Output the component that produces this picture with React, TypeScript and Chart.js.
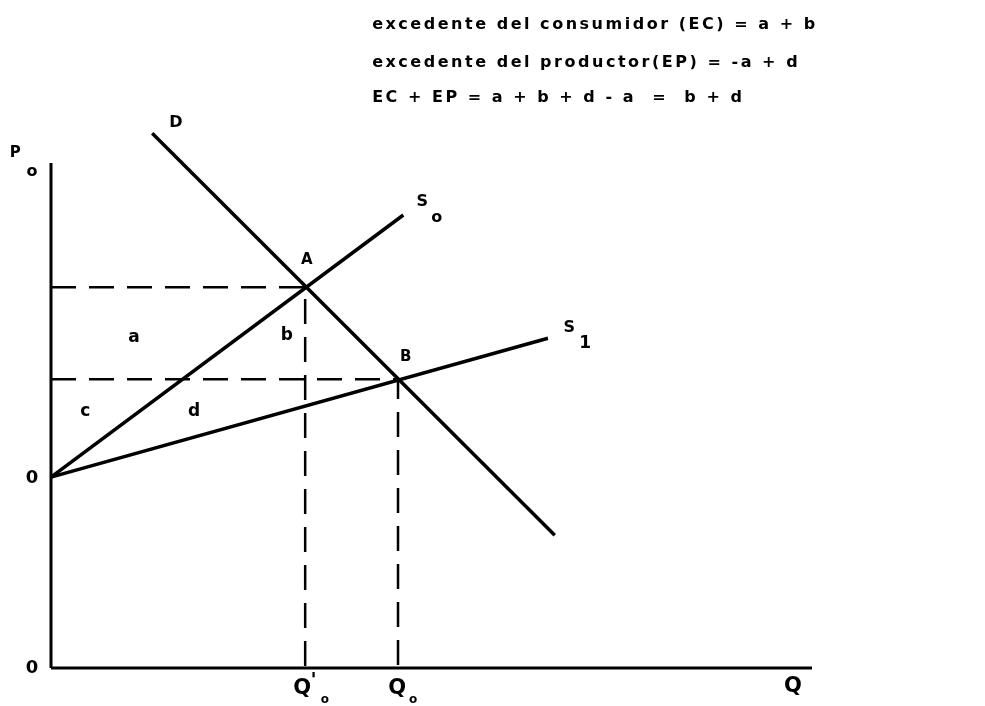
import React, { useEffect, useRef } from 'react';
import { Chart, registerables } from 'chart.js';

Chart.register(...registerables);

// Axes extent (data units: quantity Q 0..100, price P 0..100)
const axisQMax = 100;
const axisPMax = 100;

// Demand curve D
const demandQ = [13.3, 66.2];
const demandP = [105.9, 26.3];

// Supply S0
const supply0Q = [0, 46.3];
const supply0P = [37.8, 89.7];

// Supply S1
const supply1Q = [0, 65.3];
const supply1P = [37.8, 65.3];

// Equilibria A and B
const pointA = { q: 33.4, p: 75.4 };
const pointB = { q: 45.6, p: 57.2 };

// Text labels (data coordinates)
const labelText = ['D', 'A', 'B', 'a', 'b', 'c', 'd', '0', '0', 'P', 'o', 'S', 'o', 'S', '1', 'Q', "'", 'o', 'Q', 'o', 'Q'];
const labelQ = [16.4, 33.6, 46.6, 10.9, 31.0, 4.5, 18.8, -2.5, -2.5, -4.7, -2.5, 48.8, 50.7, 68.1, 70.2, 33.0, 34.5, 36.0, 45.5, 47.6, 97.5];
const labelP = [107.9, 80.8, 61.6, 65.5, 65.9, 50.7, 50.7, 37.6, 0, 102, 98.2, 92.3, 89.1, 67.3, 64.2, -4.0, -2.6, -6.3, -4.0, -6.3, -3.6];
const labelSize = [16, 15, 15, 17, 17, 17, 17, 18, 18, 15, 16, 16, 16, 16, 17, 21, 20, 12, 21, 12, 21];

// Formula lines at top
const formulas = [
  'excedente del consumidor (EC) = a + b',
  'excedente del productor(EP) = -a + d',
  'EC + EP = a + b + d - a  =  b + d',
];
const formulaQ = 42.2;
const formulaP = [127.3, 119.8, 112.9];
const formulaWidthPx = 443;

const FONT = '"DejaVu Sans", "Liberation Sans", Arial, sans-serif';

const pts = (qs: number[], ps: number[]) => qs.map((q, i) => ({ x: q, y: ps[i] }));

export default function App() {
  const ref = useRef<HTMLCanvasElement>(null);

  useEffect(() => {
    const labelPlugin = {
      id: 'labelPlugin',
      afterDatasetsDraw(chart: any) {
        const { ctx, scales } = chart;
        const xs = scales.x;
        const ys = scales.y;
        ctx.save();
        ctx.fillStyle = '#000';
        ctx.textAlign = 'center';
        ctx.textBaseline = 'middle';
        for (let i = 0; i < labelText.length; i++) {
          ctx.font = `bold ${labelSize[i]}px ${FONT}`;
          ctx.fillText(labelText[i], xs.getPixelForValue(labelQ[i]), ys.getPixelForValue(labelP[i]));
        }
        // formulas, letter-spaced
        ctx.font = `bold 16px ${FONT}`;
        ctx.textAlign = 'left';
        const first = formulas[0];
        const natural = ctx.measureText(first).width;
        const spacing = (formulaWidthPx - natural) / (first.length - 1);
        formulas.forEach((line, li) => {
          let px = xs.getPixelForValue(formulaQ);
          const py = ys.getPixelForValue(formulaP[li]);
          for (const ch of line) {
            ctx.fillText(ch, px, py);
            px += ctx.measureText(ch).width + spacing;
          }
        });
        ctx.restore();
      },
    };

    const line = (data: any[], width: number, dash: number[] = []) => ({
      data,
      showLine: true,
      borderColor: '#000',
      backgroundColor: '#000',
      borderWidth: width,
      borderDash: dash,
      pointRadius: 0,
      tension: 0,
      clip: false as any,
      fill: false,
    });

    const chart = new Chart(ref.current as HTMLCanvasElement, {
      type: 'scatter',
      data: {
        datasets: [
          // axes
          line([{ x: 0, y: 0 }, { x: 0, y: axisPMax }], 3),
          line([{ x: 0, y: 0 }, { x: axisQMax, y: 0 }], 3),
          // dashed guides
          line([{ x: 0, y: pointA.p }, { x: pointA.q, y: pointA.p }, { x: pointA.q, y: 0 }], 2.5, [25, 13]),
          line([{ x: 0, y: pointB.p }, { x: pointB.q, y: pointB.p }, { x: pointB.q, y: 0 }], 2.5, [25, 13]),
          // curves
          line(pts(demandQ, demandP), 3.5),
          line(pts(supply0Q, supply0P), 3.5),
          line(pts(supply1Q, supply1P), 3.5),
        ] as any,
      },
      options: {
        animation: false,
        responsive: false,
        events: [],
        layout: { padding: { left: 51, right: 173, top: 11.5, bottom: 38 } },
        scales: {
          x: { type: 'linear', min: 0, max: 100, display: false },
          y: { type: 'linear', min: 0, max: 130, display: false },
        },
        plugins: { legend: { display: false }, tooltip: { enabled: false } },
      },
      plugins: [labelPlugin],
    });
    return () => chart.destroy();
  }, []);

  return (
    <div style={{ position: 'fixed', left: 0, top: 0, width: 985, height: 706, background: '#fff' }}>
      <canvas ref={ref} width={985} height={706} style={{ display: 'block' }} />
    </div>
  );
}
